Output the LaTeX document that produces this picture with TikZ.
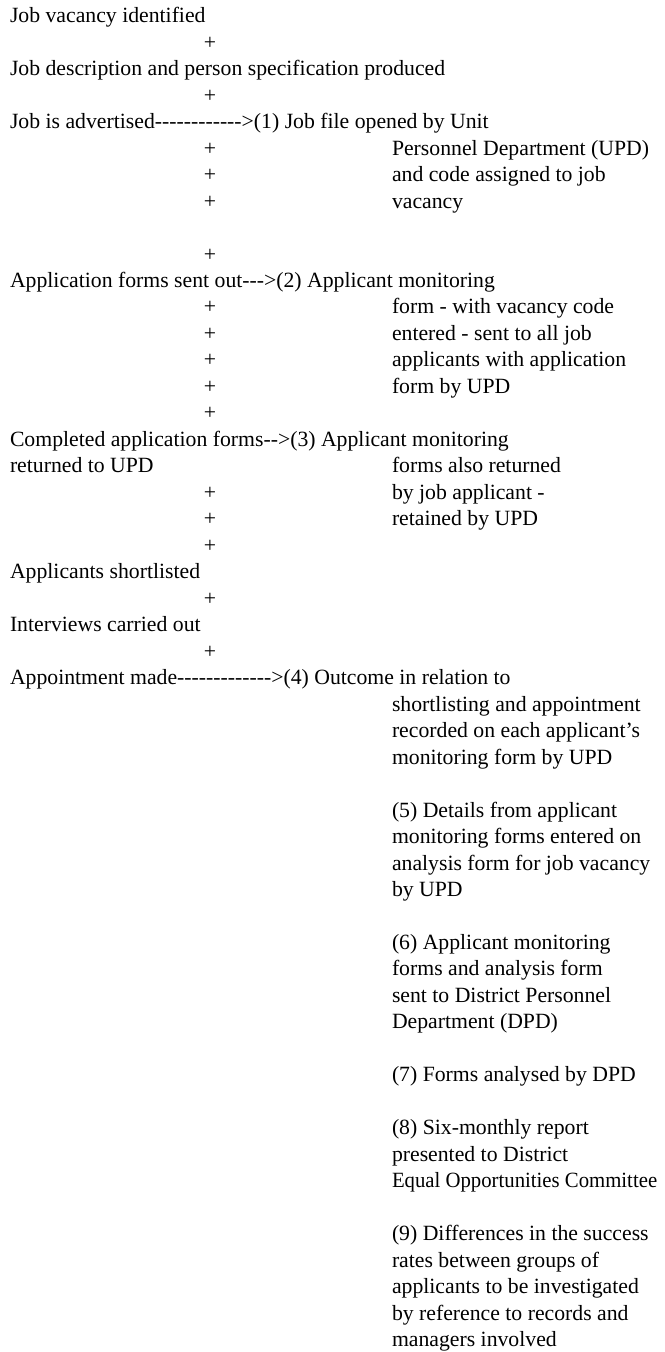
\documentclass[tikz,border=0pt]{standalone}
\usepackage{graphicx}
\usepackage{fontspec}
\setmainfont{Liberation Serif}[Ligatures=TeXOff]
\newcommand\pitch{26.48}
\newcommand\basey{22.7}
\tikzset{
  txt/.style={inner sep=0pt, outer sep=0pt, font=\fontsize{16.3pt}{19.9pt}\selectfont, text=black},
  lefttxt/.style={txt, anchor=base west},
  righttxt/.style={txt, anchor=base west},
  plusmark/.style={txt, anchor=base}
}
\newcommand\Lt[3]{\node[lefttxt] (#1) at (10,{\basey+\pitch*#2}) {#3};}
\newcommand\Rt[3]{\node[righttxt] (#1) at (392,{\basey+\pitch*#2}) {#3};}
\newcommand\Pl[2]{\node[plusmark] (#1) at (210,{\basey+\pitch*#2}) {+};}
\begin{document}
\begin{tikzpicture}[x=0.75pt,y=-0.75pt]
\useasboundingbox (0,0) rectangle (664,1352);
\Lt{l0}{0}{Job vacancy identified}
\Pl{p1}{1}
\Lt{l2}{2}{Job description and person specification produced}
\Pl{p3}{3}
\Lt{l4}{4}{Job is advertised------------>(1) Job file opened by Unit}
\Pl{p5}{5}\Rt{r5}{5}{Personnel Department (UPD)}
\Pl{p6}{6}\Rt{r6}{6}{and code assigned to job}
\Pl{p7}{7}\Rt{r7}{7}{vacancy}
\Pl{p9}{9}
\Lt{l10}{10}{Application forms sent out--->(2) Applicant monitoring}
\Pl{p11}{11}\Rt{r11}{11}{form - with vacancy code}
\Pl{p12}{12}\Rt{r12}{12}{entered - sent to all job}
\Pl{p13}{13}\Rt{r13}{13}{applicants with application}
\Pl{p14}{14}\Rt{r14}{14}{form by UPD}
\Pl{p15}{15}
\Lt{l16}{16}{Completed application forms-->(3) Applicant monitoring}
\Lt{l17}{17}{returned to UPD}\Rt{r17}{17}{forms also returned}
\Pl{p18}{18}\Rt{r18}{18}{by job applicant -}
\Pl{p19}{19}\Rt{r19}{19}{retained by UPD}
\Pl{p20}{20}
\Lt{l21}{21}{Applicants shortlisted}
\Pl{p22}{22}
\Lt{l23}{23}{Interviews carried out}
\Pl{p24}{24}
\Lt{l25}{25}{Appointment made------------->(4) Outcome in relation to}
\Rt{r26}{26}{shortlisting and appointment}
\Rt{r27}{27}{recorded on each applicant’s}
\Rt{r28}{28}{monitoring form by UPD}
\Rt{r30}{30}{(5) Details from applicant}
\Rt{r31}{31}{monitoring forms entered on}
\Rt{r32}{32}{analysis form for job vacancy}
\Rt{r33}{33}{by UPD}
\Rt{r35}{35}{(6) Applicant monitoring}
\Rt{r36}{36}{forms and analysis form}
\Rt{r37}{37}{sent to District Personnel}
\Rt{r38}{38}{Department (DPD)}
\Rt{r40}{40}{(7) Forms analysed by DPD}
\Rt{r42}{42}{(8) Six-monthly report}
\Rt{r43}{43}{presented to District}
\Rt{r44}{44}{\scalebox{0.955}[1]{Equal Opportunities Committee}}
\Rt{r46}{46}{(9) Differences in the success}
\Rt{r47}{47}{rates between groups of}
\Rt{r48}{48}{applicants to be investigated}
\Rt{r49}{49}{by reference to records and}
\Rt{r50}{50}{managers involved}
\end{tikzpicture}
\end{document}
